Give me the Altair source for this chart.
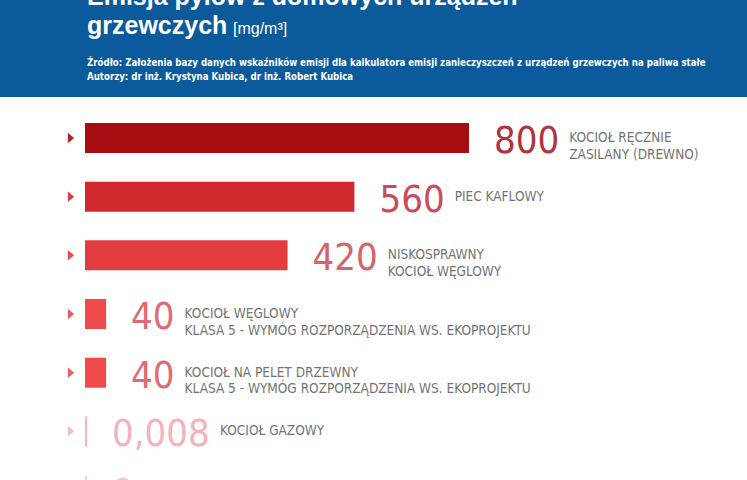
import altair as alt
import pandas as pd

# ---- data ----
labels = [
    "KOCIOŁ RĘCZNIE\nZASILANY (DREWNO)",
    "PIEC KAFLOWY",
    "NISKOSPRAWNY\nKOCIOŁ WĘGLOWY",
    "KOCIOŁ WĘGLOWY\nKLASA 5 - WYMÓG ROZPORZĄDZENIA WS. EKOPROJEKTU",
    "KOCIOŁ NA PELET DRZEWNY\nKLASA 5 - WYMÓG ROZPORZĄDZENIA WS. EKOPROJEKTU",
    "KOCIOŁ GAZOWY",
    "",
]
values = [800, 560, 420, 40, 40, 0.008, 0]
value_texts = ["800", "560", "420", "40", "40", "0,008", "0"]

title_line1 = "Emisja pyłów z domowych urządzeń"
title_line2 = "grzewczych"
title_unit = "[mg/m³]"
source_line = "Źródło: Założenia bazy danych wskaźników emisji dla kalkulatora emisji zanieczyszczeń z urządzeń grzewczych na paliwa stałe"
authors_line = "Autorzy: dr inż. Krystyna Kubica, dr inż. Robert Kubica"

# ---- styles ----
bar_colors = ["#a50d10", "#d1292d", "#e23c3f", "#ef4a4c", "#ef4a4c", "#f2b5c0", "#f7cdd4"]
num_colors = ["#b0333d", "#c94d57", "#d6636b", "#df6b72", "#df6b72", "#f2b3be", "#f6c6cd"]
NARROW = "DejaVu Sans Condensed"
BLUE = "#0b5a9b"
NUM_SIZE = 38

df = pd.DataFrame({"label": labels, "value": values, "num": value_texts})

X_RANGE = [86, 468]
X_DOMAIN = [0, 800]
px_per_unit = (X_RANGE[1] - X_RANGE[0]) / (X_DOMAIN[1] - X_DOMAIN[0])

x_scale = alt.Scale(domain=X_DOMAIN, range=X_RANGE, zero=True, nice=False)
y_enc = alt.Y("label:N", sort=labels, axis=None,
              scale=alt.Scale(type="point", domain=labels, range=[138, 490], padding=0))

base = alt.Chart(df)

bars = base.mark_bar(size=28, strokeWidth=2).encode(
    x=alt.X("value:Q", scale=x_scale, axis=None),
    x2=alt.datum(0),
    y=y_enc,
    color=alt.Color("label:N", scale=alt.Scale(domain=labels, range=bar_colors), legend=None),
    stroke=alt.Stroke("label:N", scale=alt.Scale(domain=labels, range=bar_colors), legend=None),
)

tri = base.mark_point(
    shape="M-0.6,-1L0.6,0L-0.6,1Z", filled=True, size=110, opacity=0.9, strokeWidth=0
).encode(
    x=alt.value(71),
    y=y_enc,
    color=alt.Color("label:N", scale=alt.Scale(domain=labels, range=bar_colors), legend=None),
)

nums = base.mark_text(
    align="left", baseline="alphabetic", dx=26, dy=15, font=NARROW, fontSize=NUM_SIZE
).encode(
    x=alt.X("value:Q", scale=x_scale, axis=None),
    y=y_enc,
    text="num:N",
    color=alt.Color("label:N", scale=alt.Scale(domain=labels, range=num_colors), legend=None),
)

digit_w = 0.5725 * NUM_SIZE
comma_w = 0.29 * NUM_SIZE
texts = base.transform_calculate(
    numw=f"length(datum.num) * {digit_w} - (indexof(datum.num, ',') >= 0 ? {digit_w - comma_w} : 0)"
).transform_calculate(
    lx=f"datum.value + (26 + datum.numw + 10) / {px_per_unit}"
).mark_text(
    align="left", baseline="middle", font=NARROW, fontSize=13.5, lineBreak="\n",
    lineHeight=16.5, color="#737373"
).encode(
    x=alt.X("lx:Q", scale=x_scale, axis=None),
    y=y_enc,
    text="label:N",
)

one = pd.DataFrame({"k": [0]})
header = alt.Chart(one).mark_rect(color=BLUE).encode(
    x=alt.value(0), x2=alt.value(747), y=alt.value(0), y2=alt.value(97)
)
t1 = alt.Chart(one).mark_text(
    text=title_line1, align="left", baseline="alphabetic", font="Liberation Sans",
    fontWeight="bold", fontSize=25, color="white"
).encode(x=alt.value(87), y=alt.value(5))
t2 = alt.Chart(one).mark_text(
    text=title_line2, align="left", baseline="alphabetic", font="Liberation Sans",
    fontWeight="bold", fontSize=25, color="white"
).encode(x=alt.value(87), y=alt.value(34))
t3 = alt.Chart(one).mark_text(
    text=title_unit, align="left", baseline="alphabetic", font="Liberation Sans",
    fontSize=16, color="white"
).encode(x=alt.value(233), y=alt.value(34))
s1 = alt.Chart(one).mark_text(
    text=source_line, align="left", baseline="alphabetic", font=NARROW,
    fontWeight="bold", fontSize=9.6, color="white"
).encode(x=alt.value(87), y=alt.value(66))
s2 = alt.Chart(one).mark_text(
    text=authors_line, align="left", baseline="alphabetic", font=NARROW,
    fontWeight="bold", fontSize=9.6, color="white"
).encode(x=alt.value(87), y=alt.value(80))

chart = alt.layer(
    header, t1, t2, t3, s1, s2, bars, tri, nums, texts
).resolve_scale(
    color="independent", stroke="independent"
).properties(
    width=747, height=480, autosize=alt.AutoSizeParams(type="none"), padding=0,
    background="white"
).configure_view(stroke=None)

chart.save("out.html", embed_options={"renderer": "svg", "actions": False})
